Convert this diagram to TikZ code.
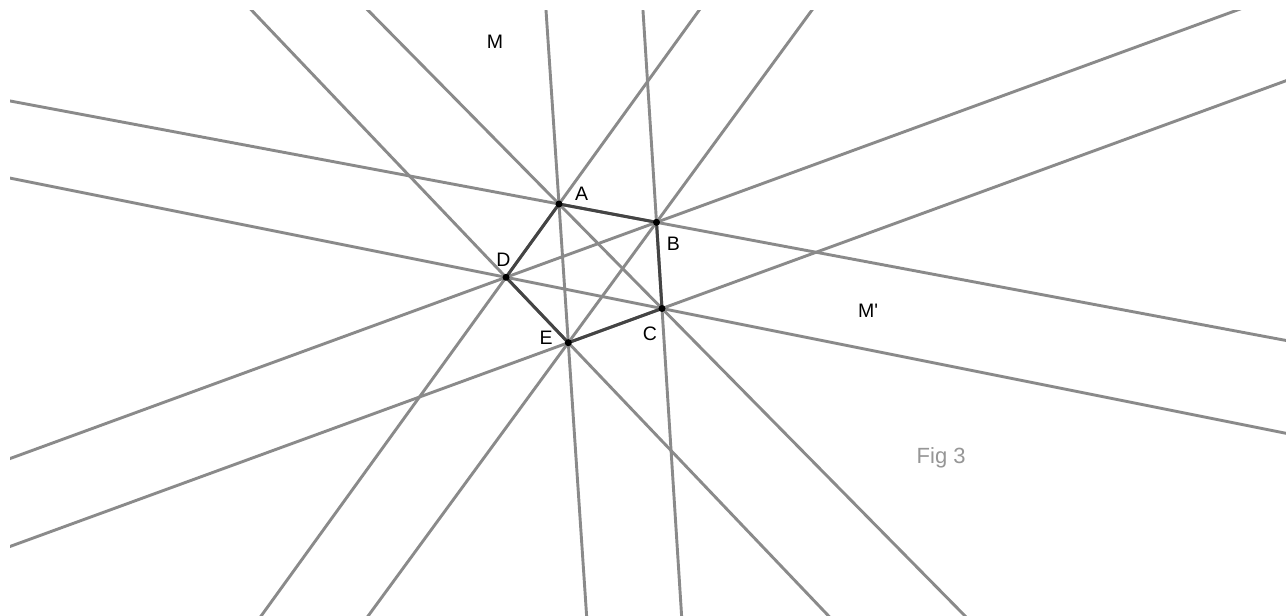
\documentclass[tikz,border=0pt]{standalone}
\usepackage{fontspec}
\setmainfont{Liberation Sans}
\usetikzlibrary{calc}
\definecolor{lgray}{RGB}{138,138,138}
\definecolor{dgray}{RGB}{68,68,68}
\definecolor{fgray}{RGB}{150,150,150}
\tikzset{
  gline/.style={draw=lgray,line width=2.9pt},
  pedge/.style={draw=dgray,line width=3pt},
  pdot/.style={circle,fill=black,inner sep=0pt,minimum size=7pt},
  lab/.style={inner sep=0pt,font=\fontsize{19.5}{21}\selectfont},
}
\begin{document}
\begin{tikzpicture}[x=1pt,y=-1pt]
\useasboundingbox[fill=white] (0,0) rectangle (1286,616);
\coordinate (A) at (559,204);
\coordinate (B) at (656.5,222.3);
\coordinate (C) at (662,308.5);
\coordinate (D) at (506,277.3);
\coordinate (E) at (568.3,342.7);
\begin{scope}
\clip (10,10) rectangle (1286,616);
\foreach \p/\q in {A/B,A/C,A/D,A/E,B/C,B/D,B/E,C/D,C/E,D/E}{
  \draw[gline] ($(\p)!-20!(\q)$) -- ($(\p)!21!(\q)$);
}
\end{scope}
\draw[pedge] (A) -- (B) -- (C) -- (E) -- (D) -- cycle;
\foreach \p in {A,B,C,D,E}{\node[pdot] (p\p) at (\p) {};}
\node[lab] (lA) at (581.7,193.3) {A};
\node[lab] (lB) at (673.3,243.3) {B};
\node[lab] (lC) at (650,334) {C};
\node[lab] (lD) at (503.3,259.3) {D};
\node[lab] (lE) at (546,337.7) {E};
\node[lab] (lM) at (495,42) {M};
\node[lab] (lMp) at (868,310.5) {M\textquotesingle};
\node[inner sep=0pt,anchor=base west,text=fgray,font=\fontsize{22}{24}\selectfont] (fig) at (916.5,463.3) {Fig 3};
\end{tikzpicture}
\end{document}
